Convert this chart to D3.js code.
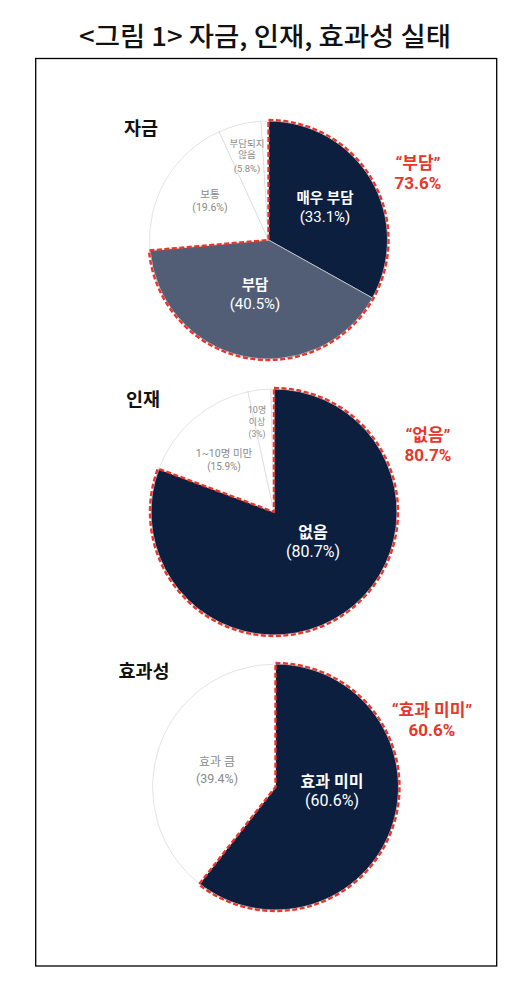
<!DOCTYPE html>
<html><head><meta charset="utf-8">
<script src="https://cdn.jsdelivr.net/npm/d3@7"></script>
<style>
html,body{margin:0;padding:0;background:#fff;}
svg{display:block;}
</style></head>
<body>
<svg id="chart" width="524" height="990"></svg>
<script>
// ---- data ----
const chartTitle = "<그림 1> 자금, 인재, 효과성 실태";

const fundLabels = [["매우 부담"], ["부담"], ["보통"], ["부담되지", "않음"], []];
const fundValues = [33.1, 40.5, 19.6, 5.8, 1.0];
const fundPctText = ["(33.1%)", "(40.5%)", "(19.6%)", "(5.8%)", ""];

const talentLabels = [["없음"], ["1~10명 미만"], ["10명", "이상"], []];
const talentValues = [80.7, 15.9, 3.0, 0.4];
const talentPctText = ["(80.7%)", "(15.9%)", "(3%)", ""];

const effectLabels = [["효과 미미"], ["효과 큼"]];
const effectValues = [60.6, 39.4];
const effectPctText = ["(60.6%)", "(39.4%)"];

const sectionTitles = ["자금", "인재", "효과성"];
const highlightNames = ["“부담”", "“없음”", "“효과 미미”"];
const highlightValues = ["73.6%", "80.7%", "60.6%"];
const highlightCounts = [2, 1, 1];

// ---- layout / style ----
const svg = d3.select("#chart");
const NAVY = "#0d1f3f", SLATE = "#525e75", WHITE = "#ffffff";
const RED = "#e8362c", GREY = "#8a8a8a";
const FONT = "'Noto Sans CJK KR','Noto Sans',sans-serif";
const TIGHT = "Roboto,'Noto Sans CJK KR',sans-serif";

svg.append("text")
  .attr("x", 265).attr("y", 34)
  .attr("text-anchor", "middle").attr("dominant-baseline", "central")
  .attr("font-family", FONT).attr("font-size", 26).attr("font-weight", 500)
  .attr("textLength", 372).attr("lengthAdjust", "spacingAndGlyphs")
  .attr("fill", "#111").text(chartTitle);

svg.append("rect")
  .attr("x", 35.7).attr("y", 58.5).attr("width", 461).attr("height", 907.5)
  .attr("fill", "none").attr("stroke", "#000").attr("stroke-width", 1.3);

const pies = [
  { cx: 268.5, cy: 240, r: 119, values: fundValues, labels: fundLabels, pct: fundPctText,
    colors: [NAVY, SLATE, WHITE, WHITE, WHITE],
    textPos: [[325, 198, 217], [255, 285, 304], [210, 194, 207], [247, 142.5, 168], null],
    sizes: [[14.5, 15, 0], [14.5, 15, 0], [10.5, 10.5, 0], [9.5, 9.5, 11.5]],
    title: [141, 126.5], hl: [418, 163, 183] },
  { cx: 274, cy: 512, r: 123, values: talentValues, labels: talentLabels, pct: talentPctText,
    colors: [NAVY, WHITE, WHITE, WHITE],
    textPos: [[313, 531.5, 551], [224, 453, 466], [257, 409.5, 433.5], null],
    sizes: [[16, 16, 0], [10.5, 10, 0], [9, 8.5, 12]],
    title: [143, 398], hl: [428, 435, 455] },
  { cx: 275.5, cy: 787, r: 123, values: effectValues, labels: effectLabels, pct: effectPctText,
    colors: [NAVY, WHITE],
    textPos: [[332, 780.5, 800], [217, 762, 778]],
    sizes: [[16, 16, 0], [12, 12.5, 0]],
    title: [144, 670], hl: [432, 709.5, 729.5] }
];

pies.forEach((p, pi) => {
  const g = svg.append("g").attr("transform", `translate(${p.cx},${p.cy})`);
  const pie = d3.pie().sort(null).value(d => d)(p.values);
  const arc = d3.arc().innerRadius(0).outerRadius(p.r);

  g.selectAll("path.slice").data(pie).join("path")
    .attr("class", "slice")
    .attr("d", arc)
    .attr("fill", (d, i) => p.colors[i])
    .attr("stroke", (d, i) => p.colors[i] === WHITE ? "#dcdcdc" : "#c9ccd3")
    .attr("stroke-width", 0.8);

  // dashed highlight outline
  const k = highlightCounts[pi];
  const hlArc = d3.arc().innerRadius(0).outerRadius(p.r + 1)
    .startAngle(pie[0].startAngle).endAngle(pie[k - 1].endAngle);
  g.append("path").attr("d", hlArc())
    .attr("fill", "none").attr("stroke", RED)
    .attr("stroke-width", 2.4).attr("stroke-dasharray", "5,2.5")
    .attr("stroke-linejoin", "round");

  // slice labels: one text element per slice, lines as tspans
  pie.forEach((d, i) => {
    const tp = p.textPos[i];
    if (!tp) return;
    const dark = p.colors[i] !== WHITE;
    const fill = dark ? "#ffffff" : GREY;
    const [s1, s2, lh] = p.sizes[i];
    const lines = p.labels[i];
    const t = svg.append("text")
      .attr("text-anchor", "middle").attr("dominant-baseline", "central")
      .attr("font-family", TIGHT).attr("fill", fill);
    lines.forEach((ln, li) => {
      t.append("tspan")
        .attr("x", tp[0]).attr("y", tp[1] + li * lh)
        .attr("font-size", s1)
        .attr("font-weight", dark ? 700 : 400)
        .text(ln);
    });
    t.append("tspan")
      .attr("x", tp[0]).attr("y", tp[2])
      .attr("font-size", s2).attr("font-weight", 400)
      .text(p.pct[i]);
  });

  // section title
  svg.append("text")
    .attr("x", p.title[0]).attr("y", p.title[1])
    .attr("text-anchor", "middle").attr("dominant-baseline", "central")
    .attr("font-family", FONT).attr("font-size", 18.5).attr("font-weight", 700)
    .attr("fill", "#111").text(sectionTitles[pi]);

  // highlight annotation (two lines)
  const ht = svg.append("text")
    .attr("text-anchor", "middle").attr("dominant-baseline", "central")
    .attr("font-family", TIGHT).attr("font-size", 17).attr("font-weight", 700)
    .attr("fill", RED);
  ht.append("tspan").attr("x", p.hl[0]).attr("y", p.hl[1]).text(highlightNames[pi]);
  ht.append("tspan").attr("x", p.hl[0]).attr("y", p.hl[2]).text(highlightValues[pi]);
});
</script>
</body></html>
